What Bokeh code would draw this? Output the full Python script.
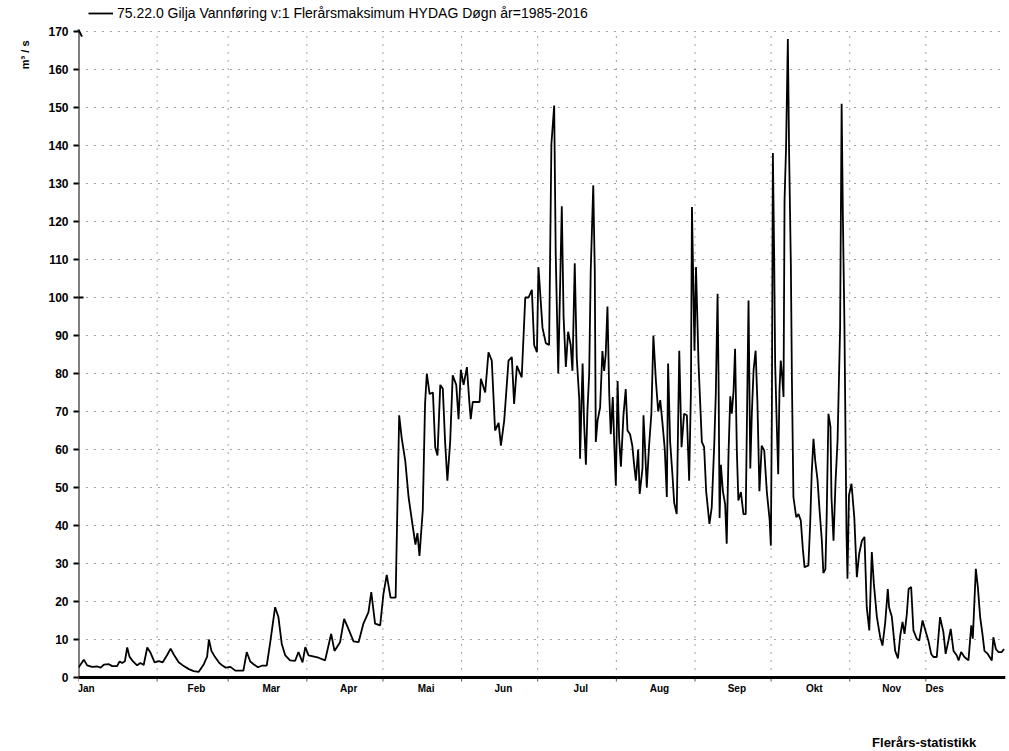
from bokeh.plotting import figure
from bokeh.models import (FixedTicker, Arrow, OpenHead, Legend, LegendItem, Range1d, Title,
                          Span, Label)
from bokeh.core.properties import value
from bokeh.embed import file_html
from bokeh.resources import INLINE

# ---------------- data ----------------
months = ["Jan", "Feb", "Mar", "Apr", "Mai", "Jun", "Jul", "Aug", "Sep", "Okt", "Nov", "Des"]
month_days = [31, 28, 31, 30, 31, 30, 31, 31, 30, 31, 30, 31]
y_ticks = list(range(0, 171, 10))
marked_tick = 100            # the y tick drawn across the axis

# day of year (0 = 1 Jan) and daily maximum discharge (m3/s)
day = [
    0.0, 2.1, 3.4, 5.4, 7.4, 8.7, 10.0, 12.0, 13.3, 15.2, 16.2, 17.2, 18.3, 19.2, 20.1, 21.4,
    23.1, 24.4, 25.7, 27.1, 28.4, 30.0, 31.7, 33.2, 35.0, 36.3, 37.6, 39.5, 41.5, 43.5, 45.4,
    47.4, 49.4, 50.7, 51.4, 52.4, 53.7, 55.3, 56.6, 58.0, 59.9, 61.8, 65.0,
    66.3, 67.7, 69.0, 70.7, 72.3, 74.2, 75.5, 77.5, 78.8, 80.1, 81.5, 83.4, 85.4, 86.7, 88.3,
    89.4, 90.7, 94.6, 97.2, 99.6, 100.9, 103.1, 104.7, 106.4, 108.4, 110.4, 112.3, 114.3,
    115.4, 116.9, 118.9, 120.2, 121.5, 123.0, 125.0, 126.4, 127.4, 128.8, 130.1, 131.7, 132.8,
    133.6, 134.4, 135.7, 136.6, 137.3,
    138.4, 139.7, 140.6, 141.5, 142.6, 143.6, 144.5, 145.4, 146.5, 147.5, 148.9, 149.8, 150.7,
    151.8, 153.1, 154.0, 154.6, 155.4, 158.1, 158.6, 160.3, 161.6, 162.9, 164.2, 165.6, 166.5,
    167.8, 169.5, 170.8, 171.7, 172.8, 174.7, 176.1, 177.4, 178.7, 179.6, 180.7, 181.3,
    182.9, 184.2, 185.5, 186.4, 187.5, 188.1, 189.1, 190.5, 191.2, 192.1, 193.0, 194.0, 194.7,
    195.6, 196.4, 197.4, 197.7, 198.7, 199.3, 200.0, 200.6, 201.3, 201.9, 202.9, 203.5, 203.9,
    204.6, 205.6, 206.5, 207.2, 207.8, 208.5, 209.2, 209.8, 210.6, 211.2, 211.8,
    212.5, 213.1, 213.8, 214.8, 215.7, 216.4, 217.4, 218.3, 219.0, 219.7, 220.6, 221.2, 222.3,
    222.7, 223.2, 224.0, 224.9, 225.8, 226.6, 227.6, 228.5, 229.3, 230.2, 231.1, 231.9, 232.4,
    233.2, 234.1, 234.8, 235.8, 236.8, 237.7, 238.7, 239.8, 240.7, 241.4, 241.8, 242.8, 243.4,
    244.4, 245.7, 246.6, 247.4, 248.7, 249.6, 250.6, 251.2, 251.9, 252.3, 252.7, 253.2, 254.0,
    254.9, 255.5, 256.2, 256.9, 257.5, 258.2, 258.8, 259.5, 260.1, 261.1, 262.1, 263.0, 263.7,
    264.1, 264.8, 265.4, 266.1, 266.9, 267.6, 268.4, 269.3, 270.3, 271.3, 272.4, 272.9,
    273.3, 273.7, 274.2, 274.6, 275.3, 275.8, 276.3, 276.8, 277.4, 277.9, 278.3, 278.9, 279.6,
    280.1, 280.8, 281.2, 281.8, 282.9, 283.8, 284.7, 285.5, 286.2, 287.7, 288.4, 289.0, 289.7,
    290.4, 291.3, 292.1, 293.0, 293.6, 294.4, 294.9, 295.6, 296.4, 296.8, 297.6, 298.4, 299.2,
    300.2, 300.8, 301.3, 301.9, 302.7, 303.1, 303.7,
    304.7, 305.8, 306.8, 307.7, 308.8, 309.8, 310.7, 311.7, 312.7, 313.5, 314.7, 316.0, 316.9,
    318.0, 319.0, 319.5, 320.6, 321.9, 323.0, 323.9, 324.8, 325.6, 326.5, 327.2, 328.2, 329.1,
    330.4, 331.4, 332.7, 334.0, 335.0, 336.1, 337.0, 338.3, 339.6, 340.9, 341.8, 342.9, 343.8,
    344.9, 346.2, 346.9, 347.9, 349.2, 350.8, 351.9, 352.5, 353.7, 354.5, 355.4, 356.3, 357.1,
    358.4, 360.0, 360.6, 361.6, 362.6, 363.9, 364.8,
]
flow = [
    2.6, 4.7, 3.2, 2.8, 2.9, 2.6, 3.4, 3.5, 3.0, 3.0, 4.2, 3.8, 4.3, 7.9, 5.5, 4.3,
    3.2, 3.8, 3.3, 7.9, 6.5, 4.0, 4.3, 4.0, 6.0, 7.6, 6.0, 4.0, 3.0, 2.2, 1.7,
    1.5, 3.5, 5.5, 10.0, 7.0, 5.5, 4.0, 3.2, 2.6, 2.8, 1.8, 1.8,
    6.7, 4.2, 3.5, 2.7, 3.1, 3.1, 8.9, 18.5, 15.9, 8.9, 5.8, 4.5, 4.4, 6.7, 4.0,
    8.0, 5.8, 5.2, 4.5, 11.5, 7.0, 9.3, 15.4, 12.8, 9.5, 9.3, 14.2, 17.2,
    22.5, 14.2, 13.7, 22.0, 27.0, 21.0, 21.0, 69.0, 63.0, 57.0, 47.5, 40.0, 35.0,
    38.0, 32.0, 44.0, 72.0, 80.0,
    74.6, 75.0, 60.6, 58.4, 77.0, 76.0, 62.0, 51.8, 62.0, 79.5, 77.0, 68.0, 81.0,
    77.0, 81.7, 73.0, 68.0, 72.5, 72.5, 78.6, 75.0, 85.6, 83.4, 65.0, 67.0, 61.0,
    67.6, 83.4, 84.3, 72.0, 82.0, 79.0, 100.0, 100.0, 102.0, 87.5, 85.6, 108.0,
    92.0, 88.0, 87.5, 140.4, 150.5, 111.5, 80.0, 124.0, 95.0, 81.7, 91.0, 87.5, 80.7,
    109.0, 84.0, 73.0, 57.6, 82.6, 66.8, 56.0, 70.0, 80.0, 107.0, 129.5, 107.0, 62.0,
    67.6, 71.0, 85.9, 80.7, 85.0, 97.6, 74.6, 64.0, 73.8, 61.0, 50.5,
    78.0, 63.0, 55.5, 69.0, 75.9, 65.0, 64.0, 61.0, 56.0, 51.8, 60.0, 48.3, 55.0,
    69.0, 62.0, 50.0, 61.0, 69.4, 90.0, 78.0, 70.0, 73.0, 66.8, 60.0, 47.5, 82.6,
    62.0, 53.5, 46.0, 43.0, 86.0, 60.6, 69.4, 69.0, 51.8, 75.4, 123.8, 86.0, 108.0,
    82.5, 62.0, 60.6, 49.0, 40.4, 44.8, 61.5, 74.6, 101.0, 78.0, 42.0, 56.0, 49.0,
    45.5, 35.2, 58.5, 74.0, 69.4, 75.4, 86.5, 59.6, 46.6, 48.8, 43.0, 43.0, 79.0,
    99.2, 55.0, 69.4, 81.0, 86.0, 72.5, 49.0, 61.0, 59.7, 49.0, 41.6, 34.7,
    69.4, 138.0, 111.5, 82.5, 65.0, 53.5, 75.5, 83.4, 79.0, 73.8, 125.5, 139.6, 168.0,
    138.0, 108.0, 78.6, 47.5, 42.2, 43.0, 41.3, 33.9, 29.0, 29.5, 40.4, 53.6, 62.8,
    57.0, 52.0, 44.0, 36.0, 27.5, 28.5, 42.2, 69.4, 66.0, 47.5, 36.0, 51.5, 62.4,
    92.0, 151.0, 121.0, 93.0, 38.7, 26.0, 48.0,
    51.0, 42.0, 26.4, 32.5, 36.0, 37.0, 18.5, 12.4, 33.0, 24.7, 15.9, 10.6, 8.4,
    14.6, 23.3, 18.5, 15.9, 7.0, 5.0, 11.0, 14.6, 11.5, 16.7, 23.3, 23.8, 12.4,
    10.2, 9.7, 15.0, 12.0, 9.7, 6.2, 5.4, 5.4, 15.9, 12.0, 6.2, 9.7, 12.8,
    7.0, 5.8, 4.5, 6.7, 5.4, 4.5, 13.7, 10.2, 28.6, 23.8, 15.9, 11.5, 7.0,
    6.2, 4.5, 10.6, 7.5, 6.7, 6.7, 7.5,
]

series_label = "75.22.0 Gilja Vannføring v:1 Flerårsmaksimum HYDAG Døgn år=1985-2016"
y_unit = "m³ / s"
footer = "Flerårs-statistikk"

# ---------------- layout helpers ----------------
W, H = 1008, 750
LEFT, RIGHT = 78, 3          # px around the plotting frame
ZERO_PX = 677                # canvas row of y = 0
PX_PER_UNIT = 3.8            # vertical scale (px per m3/s)
PX_PER_DAY = 2.537

month_starts = [sum(month_days[:i]) for i in range(12)]
y_top = y_ticks[-1]
label_pos = []
for i, (s, n) in enumerate(zip(month_starts, month_days)):
    if i == 0:
        label_pos.append(s + 3.0)
    elif i == 11:
        label_pos.append(s + 3.5)
    else:
        label_pos.append(s + n / 2 + 1.5)

y_lo = -(H - ZERO_PX) / PX_PER_UNIT
y_hi = ZERO_PX / PX_PER_UNIT
x_hi = (W - LEFT - RIGHT) / PX_PER_DAY
tick_len = 4 / PX_PER_UNIT
inner_tick = 5 / PX_PER_DAY

FONT = "Liberation Sans"

# the frame covers the canvas below/above the axes; x axis is drawn by hand at y = 0
p = figure(width=W, height=H, x_range=Range1d(0, x_hi), y_range=Range1d(y_lo, y_hi),
           output_backend="svg", toolbar_location=None, x_axis_location=None,
           min_border_left=LEFT, min_border_right=RIGHT, min_border_top=0, min_border_bottom=0)
p.outline_line_color = None
p.background_fill_color = "white"

# dotted grid
p.xgrid.grid_line_color = None
p.ygrid.ticker = FixedTicker(ticks=y_ticks[1:])
p.ygrid.grid_line_color = "#444444"
p.ygrid.grid_line_dash = "1 7"
p.ygrid.grid_line_width = 1
p.segment(x0=month_starts[1:], y0=[0] * 11, x1=month_starts[1:], y1=[y_top] * 11,
          line_color="#444444", line_dash="1 7", line_width=1)

r = p.line(day, flow, line_color="black", line_width=1.8)

# x axis line, month ticks and names
p.add_layout(Span(location=0, dimension="width", line_color="black", line_width=3))
p.segment(x0=month_starts, y0=[0] * 12, x1=month_starts, y1=[-tick_len] * 12,
          line_color="#555555", line_width=1)
p.text(x=label_pos, y=[-2.9] * 12, text=months, text_align="center",
       text_baseline="middle", text_font=value(FONT), text_font_style="bold",
       text_font_size="10px", text_color="black")

# y axis (axis line drawn by the arrow)
p.yaxis.ticker = FixedTicker(ticks=y_ticks)
p.yaxis.major_label_text_font = FONT
p.yaxis.major_label_text_font_style = "bold"
p.yaxis.major_label_text_font_size = "12px"
p.yaxis.major_label_text_color = "black"
p.yaxis.major_tick_out = 5
p.yaxis.major_tick_in = 0
p.yaxis.major_tick_line_width = 2
p.yaxis.axis_line_color = None
p.yaxis.minor_tick_line_color = None
p.yaxis.major_label_standoff = 5

p.add_layout(Arrow(end=OpenHead(size=7, line_width=2, line_color="black"),
                   x_start=0, y_start=0, x_end=0, y_end=y_top + 0.5,
                   line_width=2, line_color="black"))
# the marked tick also reaches inside the frame
p.segment(x0=[0], y0=[marked_tick], x1=[inner_tick], y1=[marked_tick],
          line_color="black", line_width=2)

# y unit label (left side, vertical, near the top)
p.add_layout(Title(text=y_unit, align="right", offset=40, standoff=28, vertical_align="middle",
                   text_font=FONT, text_font_style="bold", text_font_size="11px",
                   text_color="black"), "left")

# footer
p.add_layout(Label(x=312.8, y=-17.1, text=footer, text_align="left", text_baseline="middle",
                   text_font=FONT, text_font_style="bold", text_font_size="13px",
                   text_color="black"))

# legend at the top of the canvas
leg = Legend(items=[LegendItem(label=series_label, renderers=[r])],
             location=(10, H - 21), padding=0, margin=0, spacing=0,
             glyph_width=25, glyph_height=14, label_height=14, label_standoff=4,
             label_text_font=FONT, label_text_font_size="14px", label_text_color="black",
             border_line_alpha=0, background_fill_alpha=0)
p.add_layout(leg)

open("out.html", "w").write(file_html(p, INLINE))
